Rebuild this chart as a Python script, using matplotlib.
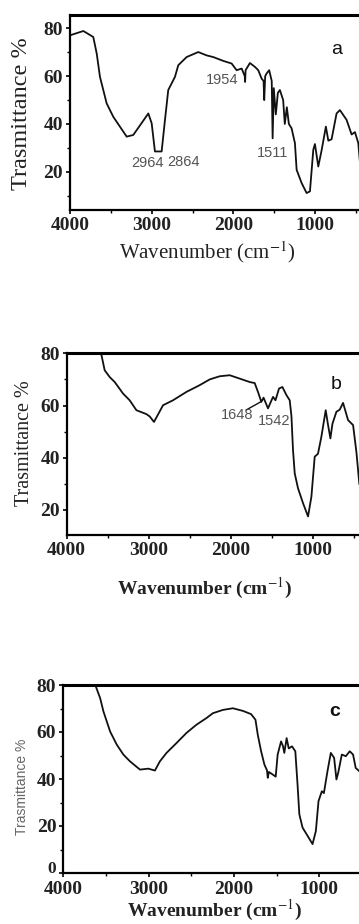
import matplotlib
matplotlib.use("Agg")
import matplotlib.pyplot as plt
import matplotlib.transforms as mtransforms
from matplotlib.ticker import MultipleLocator

plt.rcParams['mathtext.fontset'] = 'stix'

# ---- data ----
wn_a = [4000, 3837, 3715, 3673, 3633, 3551, 3470, 3306, 3225, 3041, 3000, 2960, 2878,
        2837, 2797, 2715, 2674, 2572, 2430, 2327, 2246, 2124, 2021, 1960, 1898, 1860,
        1856, 1850, 1797, 1736, 1695, 1654, 1630, 1622, 1610, 1593, 1561, 1530, 1519,
        1505, 1480, 1455, 1430, 1390, 1370, 1345, 1320, 1287, 1246, 1225, 1164, 1103,
        1062, 1021, 1001, 960, 919, 867, 837, 797, 736, 695, 613, 552, 511, 470, 440]
t_a = [77.1, 78.9, 76.4, 69.5, 59.7, 48.6, 43.0, 34.7, 35.4, 44.4, 40.3, 28.5, 28.5,
       41.7, 54.2, 59.7, 64.6, 68.0, 70.1, 68.7, 68.0, 66.4, 65.3, 62.5, 63.2, 60.0,
       57.6, 62.5, 65.5, 63.9, 62.5, 59.0, 58.0, 50.0, 60.0, 61.1, 62.5, 58.0, 34.0,
       55.0, 44.0, 53.0, 54.2, 50.0, 40.0, 47.0, 40.0, 38.2, 32.0, 20.8, 15.3, 11.1,
       11.8, 29.2, 31.6, 22.2, 29.0, 38.9, 33.0, 33.6, 44.4, 45.8, 41.7, 35.6, 36.6,
       32.0, 20.0]

wn_b = [3585, 3538, 3477, 3416, 3315, 3234, 3152, 3030, 2990, 2938, 2890, 2828, 2707,
        2544, 2382, 2260, 2139, 2017, 1895, 1774, 1713, 1673, 1632, 1605, 1551, 1490,
        1460, 1417, 1376, 1327, 1287, 1266, 1247, 1226, 1186, 1125, 1064, 1023, 983,
        943, 902, 849, 823, 792, 767, 719, 679, 638, 577, 516, 475, 440]
t_b = [80.5, 73.5, 70.9, 69.0, 64.6, 62.0, 58.2, 56.7, 55.8, 53.7, 56.5, 60.1, 62.0,
       65.2, 67.8, 70.0, 71.2, 71.6, 70.3, 69.0, 68.6, 65.2, 61.4, 63.0, 58.9, 63.3,
       62.0, 66.5, 67.1, 64.0, 62.0, 56.0, 43.0, 34.0, 28.3, 22.6, 17.5, 25.1, 40.4,
       41.5, 48.0, 58.2, 53.0, 47.4, 53.0, 57.6, 58.4, 61.0, 54.4, 52.5, 42.0, 30.0]

wn_c = [3630, 3568, 3529, 3451, 3373, 3296, 3218, 3101, 3004, 2926, 2868, 2790, 2673,
        2556, 2439, 2323, 2246, 2129, 2012, 1896, 1798, 1747, 1720, 1681, 1642, 1612,
        1603, 1590, 1545, 1510, 1487, 1447, 1425, 1409, 1382, 1357, 1319, 1280, 1254,
        1233, 1195, 1136, 1078, 1039, 1008, 969, 945, 903, 864, 825, 798, 775, 735,
        688, 642, 603, 572, 520]
t_c = [80.5, 74.4, 68.7, 60.2, 54.6, 50.4, 47.5, 44.0, 44.4, 43.6, 47.5, 51.1, 55.3,
       59.6, 63.1, 65.9, 68.0, 69.4, 70.1, 69.0, 67.6, 65.2, 58.8, 51.8, 46.1, 43.7,
       40.5, 43.0, 41.9, 41.0, 50.4, 56.0, 54.0, 51.1, 57.4, 53.0, 53.9, 51.8, 37.7,
       25.0, 19.3, 15.8, 12.3, 17.9, 30.6, 34.8, 34.0, 43.3, 51.1, 49.0, 39.8, 43.0,
       50.4, 49.7, 51.8, 50.4, 44.7, 43.0]

x_ticks = [4000, 3000, 2000, 1000]
ylabel_text = "Trasmittance %"
xlabel_text = r"Wavenumber (cm$^{-1}$)"

W, H = 359, 924
fig = plt.figure(figsize=(W / 100, H / 100), dpi=100)


def make_ax(left, top, bottom, px_per_1000, ylim, yticks, xpad=2):
    width = 3.6 * px_per_1000
    ax = fig.add_axes([left / W, 1 - bottom / H, width / W, (bottom - top) / H])
    ax.set_xlim(4000, 400)
    ax.set_ylim(*ylim)
    ax.set_xticks(x_ticks)
    ax.set_yticks(yticks)
    ax.xaxis.set_minor_locator(MultipleLocator(500))
    ax.yaxis.set_minor_locator(MultipleLocator(10))
    ax.tick_params(which='major', direction='out', length=3, width=1.2, pad=2)
    ax.tick_params(axis='x', which='major', pad=xpad)
    ax.tick_params(which='minor', direction='out', length=2, width=1.0)
    ax.spines['top'].set_linewidth(2.2)
    ax.spines['left'].set_linewidth(1.6)
    ax.spines['bottom'].set_linewidth(1.6)
    ax.spines['right'].set_visible(False)
    for lab in ax.get_xticklabels() + ax.get_yticklabels():
        lab.set_family('Liberation Serif')
        lab.set_fontsize(14)
        lab.set_fontweight('bold')
        lab.set_color('#222222')
    return ax


serif = 'Liberation Serif'
sans = 'Liberation Sans'
gray = '#555555'

# ---- panel a ----
ax = make_ax(70, 15, 210, 81.67, (4, 85.6), [20, 40, 60, 80])
ax.plot(wn_a, t_a, color='#111111', lw=1.3)
ax.text(3057, 23.6, "2964", fontsize=10.5, family=sans, color=gray, ha='center', va='center')
ax.text(2616, 24.0, "2864", fontsize=10.5, family=sans, color=gray, ha='center', va='center')
ax.text(2139, 58.4, "1954", fontsize=10.5, family=sans, color=gray, ha='center', va='center')
ax.text(1514, 27.8, "1511", fontsize=10.5, family=sans, color=gray, ha='center', va='center')
ax.text(731, 71, "a", fontsize=14, family=sans, color='#111111', ha='center', va='center')
fig.text(207 / W, 1 - 252 / H, xlabel_text, fontsize=15, family=serif, ha='center', va='center', color='#222222')
fig.text(22 / W, 1 - 114 / H, ylabel_text, fontsize=17.5, family=serif, rotation=90, ha='center', va='center', color='#222222')

# ---- panel b ----
ax = make_ax(66.7, 353.3, 535, 82.2, (10.4, 80), [20, 40, 60, 80])
ax.plot(wn_b, t_b, color='#111111', lw=1.3)
ax.plot([1816, 1634], [58.3, 61.5], color='#111111', lw=1.0)
ax.text(1932, 56.4, "1648", fontsize=10.5, family=sans, color=gray, ha='center', va='center')
ax.text(1473, 54.2, "1542", fontsize=10.5, family=sans, color=gray, ha='center', va='center')
ax.text(719, 67.9, "b", fontsize=14, family=sans, color='#111111', ha='center', va='center')
fig.text(205 / W, 1 - 588 / H, xlabel_text, fontsize=14, family=serif, fontweight='bold', ha='center', va='center', color='#222222')
fig.text(25 / W, 1 - 443 / H, ylabel_text, fontsize=14.5, family=serif, rotation=90, ha='center', va='center', color='#222222')

# ---- panel c ----
ax = make_ax(63.3, 685, 873, 85.3, (0, 80), [0, 20, 40, 60, 80], xpad=3)
ax.plot(wn_c, t_c, color='#111111', lw=1.3)
zero_lab = ax.yaxis.get_major_ticks()[0].label1
zero_lab.set_fontsize(12.5)
zero_lab.set_transform(zero_lab.get_transform()
                       + mtransforms.ScaledTranslation(0, 4 / 72, fig.dpi_scale_trans))
ax.text(815, 68.7, "c", fontsize=14, family=sans, fontweight='bold', color='#111111', ha='center', va='center')
fig.text(215 / W, 1 - 910 / H, xlabel_text, fontsize=14, family=serif, fontweight='bold', ha='center', va='center', color='#222222')
fig.text(22 / W, 1 - 787 / H, ylabel_text, fontsize=10, family=sans, rotation=90, ha='center', va='center', color='#666666')

fig.savefig("out.png", dpi=100)
